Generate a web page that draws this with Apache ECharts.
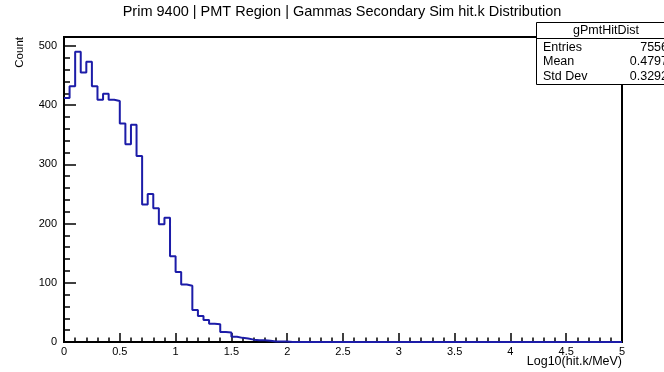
<!DOCTYPE html>
<html>
<head>
<meta charset="utf-8">
<script src="https://cdn.jsdelivr.net/npm/echarts@6/dist/echarts.min.js"></script>
<style>
  html, body { margin: 0; padding: 0; background: #fff; }
  #chart { width: 664px; height: 372px; }
</style>
</head>
<body>
<div id="chart"></div>
<script>
// Histogram binning: 100 bins of width 0.05 over [0, 5]
const binWidth = 0.05;
const xMin = 0;
const xMax = 5;

// Counts per bin (first 40 bins; the rest are empty)
const counts = [
  412, 432, 490, 455, 473, 432, 409, 419, 409, 407,
  369, 334, 367, 314, 232, 250, 226, 199, 210, 145,
  118, 97, 95, 54, 44, 37, 31, 30, 17, 16,
  9, 7, 6, 4, 3, 3, 2, 1, 1, 1
];

// Statistics box entries
const statsTitle = 'gPmtHitDist';
const statsLabels = ['Entries', 'Mean', 'Std Dev'];
const statsValues = ['7556', '0.4797', '0.3292'];

const titleText = 'Prim 9400 | PMT Region | Gammas Secondary Sim hit.k Distribution';
const xTitle = 'Log10(hit.k/MeV)';
const yTitle = 'Count';

// Build step-line points at bin left edges, plus the closing right edge
const nBins = Math.round((xMax - xMin) / binWidth);
const stepData = [];
for (let i = 0; i < nBins; i++) {
  const v = i < counts.length ? counts[i] : 0;
  stepData.push([+(xMin + i * binWidth).toFixed(4), v]);
}
stepData.push([xMax, 0]);

const FONT = 'Liberation Sans, Arial, Helvetica, sans-serif';
const chart = echarts.init(document.getElementById('chart'), null, { renderer: 'canvas' });

const statsGraphics = [
  {
    type: 'rect', z: 100,
    shape: { x: 536.5, y: 22.5, width: 150, height: 62 },
    style: { fill: '#fff', stroke: '#000', lineWidth: 1 }
  },
  {
    type: 'line', z: 101,
    shape: { x1: 536.5, y1: 38.5, x2: 700, y2: 38.5 },
    style: { stroke: '#000', lineWidth: 1 }
  },
  {
    type: 'text', z: 102, x: 606, y: 30.5,
    style: { text: statsTitle, fill: '#000', font: '12.5px ' + FONT, textAlign: 'center', textVerticalAlign: 'middle' }
  }
];
statsLabels.forEach((lab, i) => {
  statsGraphics.push({
    type: 'text', z: 102, x: 543, y: 47.5 + i * 14.3,
    style: { text: lab, fill: '#000', font: '12.5px ' + FONT, textAlign: 'left', textVerticalAlign: 'middle' }
  });
  statsGraphics.push({
    type: 'text', z: 102, x: 668, y: 47.5 + i * 14.3,
    style: { text: statsValues[i], fill: '#000', font: '12.5px ' + FONT, textAlign: 'right', textVerticalAlign: 'middle' }
  });
});

chart.setOption({
  animation: false,
  backgroundColor: '#fff',
  grid: {
    left: 64, right: 42, top: 37, bottom: 30,
    show: true, borderColor: '#000', borderWidth: 2, backgroundColor: 'transparent'
  },
  xAxis: {
    type: 'value', min: xMin, max: xMax, interval: 0.5,
    axisLine: { show: true, onZero: false, lineStyle: { color: '#000', width: 2 } },
    axisTick: { show: true, inside: true, length: 9, lineStyle: { color: '#000', width: 1.5 } },
    minorTick: { show: true, splitNumber: 5, length: 4.5, lineStyle: { color: '#000', width: 1.5 } },
    splitLine: { show: false },
    axisLabel: { color: '#000', fontFamily: FONT, fontSize: 11, margin: 4,
      formatter: v => String(+v.toFixed(2)) }
  },
  yAxis: [
    {
      type: 'value', min: 0, max: 515, interval: 100, position: 'left',
      axisLine: { show: true, onZero: false, lineStyle: { color: '#000', width: 2 } },
      axisTick: { show: true, inside: true, length: 12, lineStyle: { color: '#000', width: 1.5 } },
      splitLine: { show: false },
      axisLabel: { color: '#000', fontFamily: FONT, fontSize: 11, margin: 7,
        formatter: v => (v % 100 === 0 ? String(v) : '') }
    },
    {
      type: 'value', min: 0, max: 515, interval: 20, position: 'left',
      axisLine: { show: false },
      axisTick: { show: true, inside: true, length: 6, lineStyle: { color: '#000', width: 1.5 } },
      splitLine: { show: false },
      axisLabel: { show: false }
    }
  ],
  series: [{
    type: 'line', step: 'end', yAxisIndex: 0,
    data: stepData, showSymbol: false, symbol: 'none',
    lineStyle: { color: '#1c1ca8', width: 2 },
    z: 3
  }],
  graphic: [
    {
      type: 'text', x: 342, y: 12,
      style: { text: titleText, fill: '#000', font: '14.5px ' + FONT, textAlign: 'center', textVerticalAlign: 'middle' }
    },
    {
      type: 'text', x: 622, y: 362,
      style: { text: xTitle, fill: '#000', font: '12.5px ' + FONT, textAlign: 'right', textVerticalAlign: 'middle' }
    },
    {
      type: 'text', x: 20, y: 37, rotation: Math.PI / 2,
      style: { text: yTitle, fill: '#000', font: '11.5px ' + FONT, textAlign: 'right', textVerticalAlign: 'middle' }
    }
  ].concat(statsGraphics)
});
</script>
</body>
</html>
